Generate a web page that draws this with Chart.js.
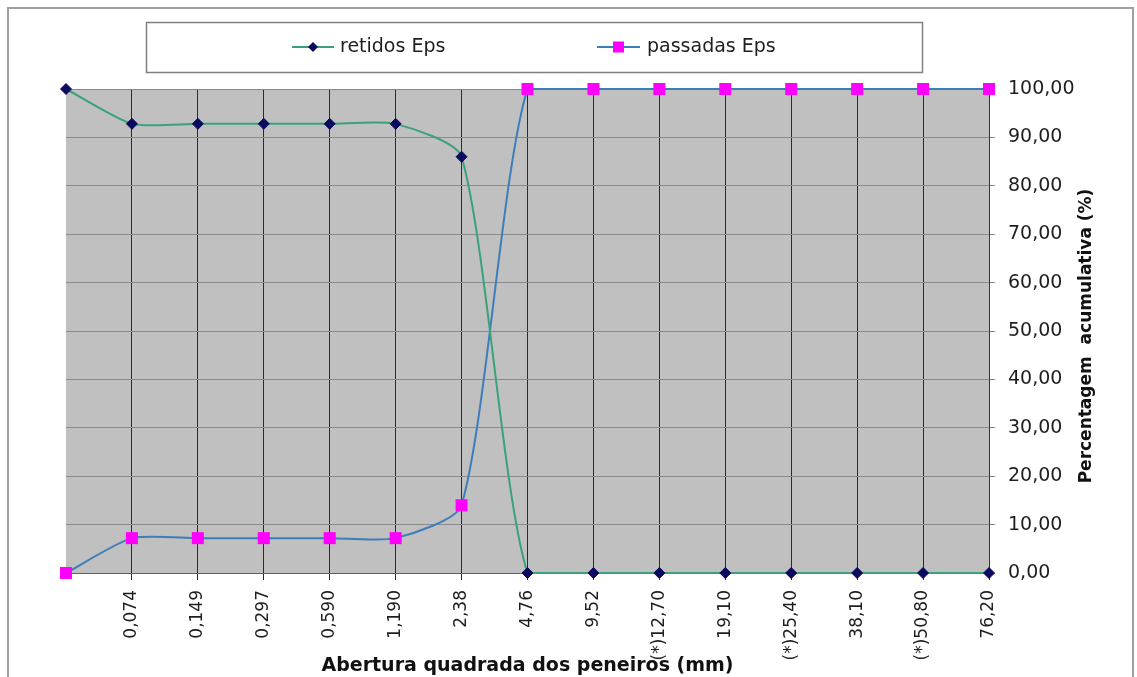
<!DOCTYPE html>
<html>
<head>
<meta charset="utf-8">
<script src="https://cdn.jsdelivr.net/npm/chart.js@4/dist/chart.umd.min.js"></script>
<style>
  html, body { margin: 0; padding: 0; background: #fff; overflow: hidden; }
  canvas { display: block; }
</style>
</head>
<body>
<canvas id="curva" width="1137" height="677"></canvas>
<script>
// Aberturas das peneiras (mm) – first position is the pan, without label
const aberturas = ['', '0,074', '0,149', '0,297', '0,590', '1,190', '2,38', '4,76', '9,52',
                   '(*)12,70', '19,10', '(*)25,40', '38,10', '(*)50,80', '76,20'];

// Percentagens acumuladas
const retidosEps  = [100, 92.8, 92.8, 92.8, 92.8, 92.8, 86.0, 0, 0, 0, 0, 0, 0, 0, 0];
const passadasEps = [0, 7.2, 7.2, 7.2, 7.2, 7.2, 14.0, 100, 100, 100, 100, 100, 100, 100, 100];

const FONT = "'DejaVu Sans', 'Liberation Sans', Arial, sans-serif";
const fmt = v => Number(v).toFixed(2).replace('.', ',');

// Page frame, plot background, legend box and right-hand axis title
const moldura = {
  id: 'moldura',
  beforeDraw(chart) {
    const { ctx, chartArea: a, width, height } = chart;
    ctx.save();
    ctx.fillStyle = '#ffffff';
    ctx.fillRect(0, 0, width, height);
    ctx.fillStyle = '#c0c0c0';
    ctx.fillRect(a.left, a.top, a.right - a.left, a.bottom - a.top);
    ctx.restore();
  },
  afterDraw(chart) {
    const { ctx } = chart;
    ctx.save();

    // outer frame
    ctx.strokeStyle = '#a0a0a0';
    ctx.lineWidth = 2;
    ctx.strokeRect(8, 8, 1125, 720);

    // legend box
    ctx.strokeStyle = '#808080';
    ctx.lineWidth = 1.5;
    ctx.strokeRect(146.5, 22.5, 776, 50);

    const itens = [
      { ds: chart.data.datasets[0], x0: 292, x1: 334, tx: 340 },
      { ds: chart.data.datasets[1], x0: 597, x1: 640, tx: 647 }
    ];
    const cy = 47;
    itens.forEach(it => {
      const mx = (it.x0 + it.x1) / 2;
      ctx.strokeStyle = it.ds.borderColor;
      ctx.lineWidth = 2;
      ctx.beginPath();
      ctx.moveTo(it.x0, cy);
      ctx.lineTo(it.x1, cy);
      ctx.stroke();
      ctx.fillStyle = it.ds.pointBackgroundColor;
      ctx.beginPath();
      if (it.ds.pointStyle === 'rectRot') {
        const r = 5;
        ctx.moveTo(mx - r, cy); ctx.lineTo(mx, cy - r);
        ctx.lineTo(mx + r, cy); ctx.lineTo(mx, cy + r);
        ctx.closePath();
      } else {
        ctx.rect(mx - 5.5, cy - 5.5, 11, 11);
      }
      ctx.fill();
      ctx.fillStyle = '#1e1e1e';
      ctx.font = '19px ' + FONT;
      ctx.textAlign = 'left';
      ctx.textBaseline = 'middle';
      ctx.fillText(it.ds.label, it.tx, cy);
    });

    // y-axis title, reading bottom to top
    ctx.translate(1087, 336);
    ctx.rotate(-Math.PI / 2);
    ctx.fillStyle = '#111111';
    ctx.font = 'bold 17px ' + FONT;
    ctx.textAlign = 'center';
    ctx.textBaseline = 'middle';
    ctx.fillText('Percentagem  acumulativa (%)', 0, 0);
    ctx.restore();
  }
};

new Chart(document.getElementById('curva'), {
  type: 'line',
  data: {
    labels: aberturas,
    datasets: [
      {
        label: 'retidos Eps',
        data: retidosEps,
        borderColor: '#3aa27a',
        borderWidth: 2,
        tension: 0.22,
        pointStyle: 'rectRot',
        pointRadius: 5.5,
        pointBackgroundColor: '#0a0a5e',
        pointBorderColor: '#0a0a5e',
        pointBorderWidth: 1,
        clip: false
      },
      {
        label: 'passadas Eps',
        data: passadasEps,
        borderColor: '#3f7dba',
        borderWidth: 2,
        tension: 0.22,
        pointStyle: 'rect',
        pointRadius: 8.5,
        pointBackgroundColor: '#ff00ff',
        pointBorderColor: '#ff00ff',
        pointBorderWidth: 0,
        clip: false
      }
    ]
  },
  options: {
    responsive: false,
    devicePixelRatio: 1,
    animation: false,
    events: [],
    layout: { padding: { top: 89, left: 66, right: 0, bottom: 0 } },
    plugins: {
      legend: { display: false },
      tooltip: { enabled: false }
    },
    scales: {
      x: {
        type: 'category',
        offset: false,
        afterFit: s => { s.height = 104; },
        grid: {
          color: c => (c.index === 0 ? 'rgba(0,0,0,0)' : '#2a2a2a'),
          lineWidth: 1,
          drawTicks: true,
          tickLength: 7
        },
        border: { display: true, color: '#606060', width: 1 },
        ticks: {
          autoSkip: false,
          minRotation: 90,
          maxRotation: 90,
          padding: 10,
          color: '#1e1e1e',
          font: { family: FONT, size: 17 }
        },
        title: {
          display: true,
          text: 'Abertura quadrada dos peneiros (mm)',
          color: '#111111',
          font: { family: FONT, size: 19, weight: 'bold' },
          padding: { top: 0, bottom: 0 }
        }
      },
      y: {
        position: 'right',
        min: 0,
        max: 100,
        afterFit: s => { s.width = 148; },
        grid: {
          color: '#8a8a8a',
          lineWidth: 1,
          drawTicks: true,
          tickLength: 6
        },
        border: { display: true, color: '#333333', width: 1 },
        ticks: {
          stepSize: 10,
          padding: 13,
          color: '#1e1e1e',
          font: { family: FONT, size: 19 },
          callback: v => fmt(v)
        }
      }
    }
  },
  plugins: [moldura]
});
</script>
</body>
</html>
